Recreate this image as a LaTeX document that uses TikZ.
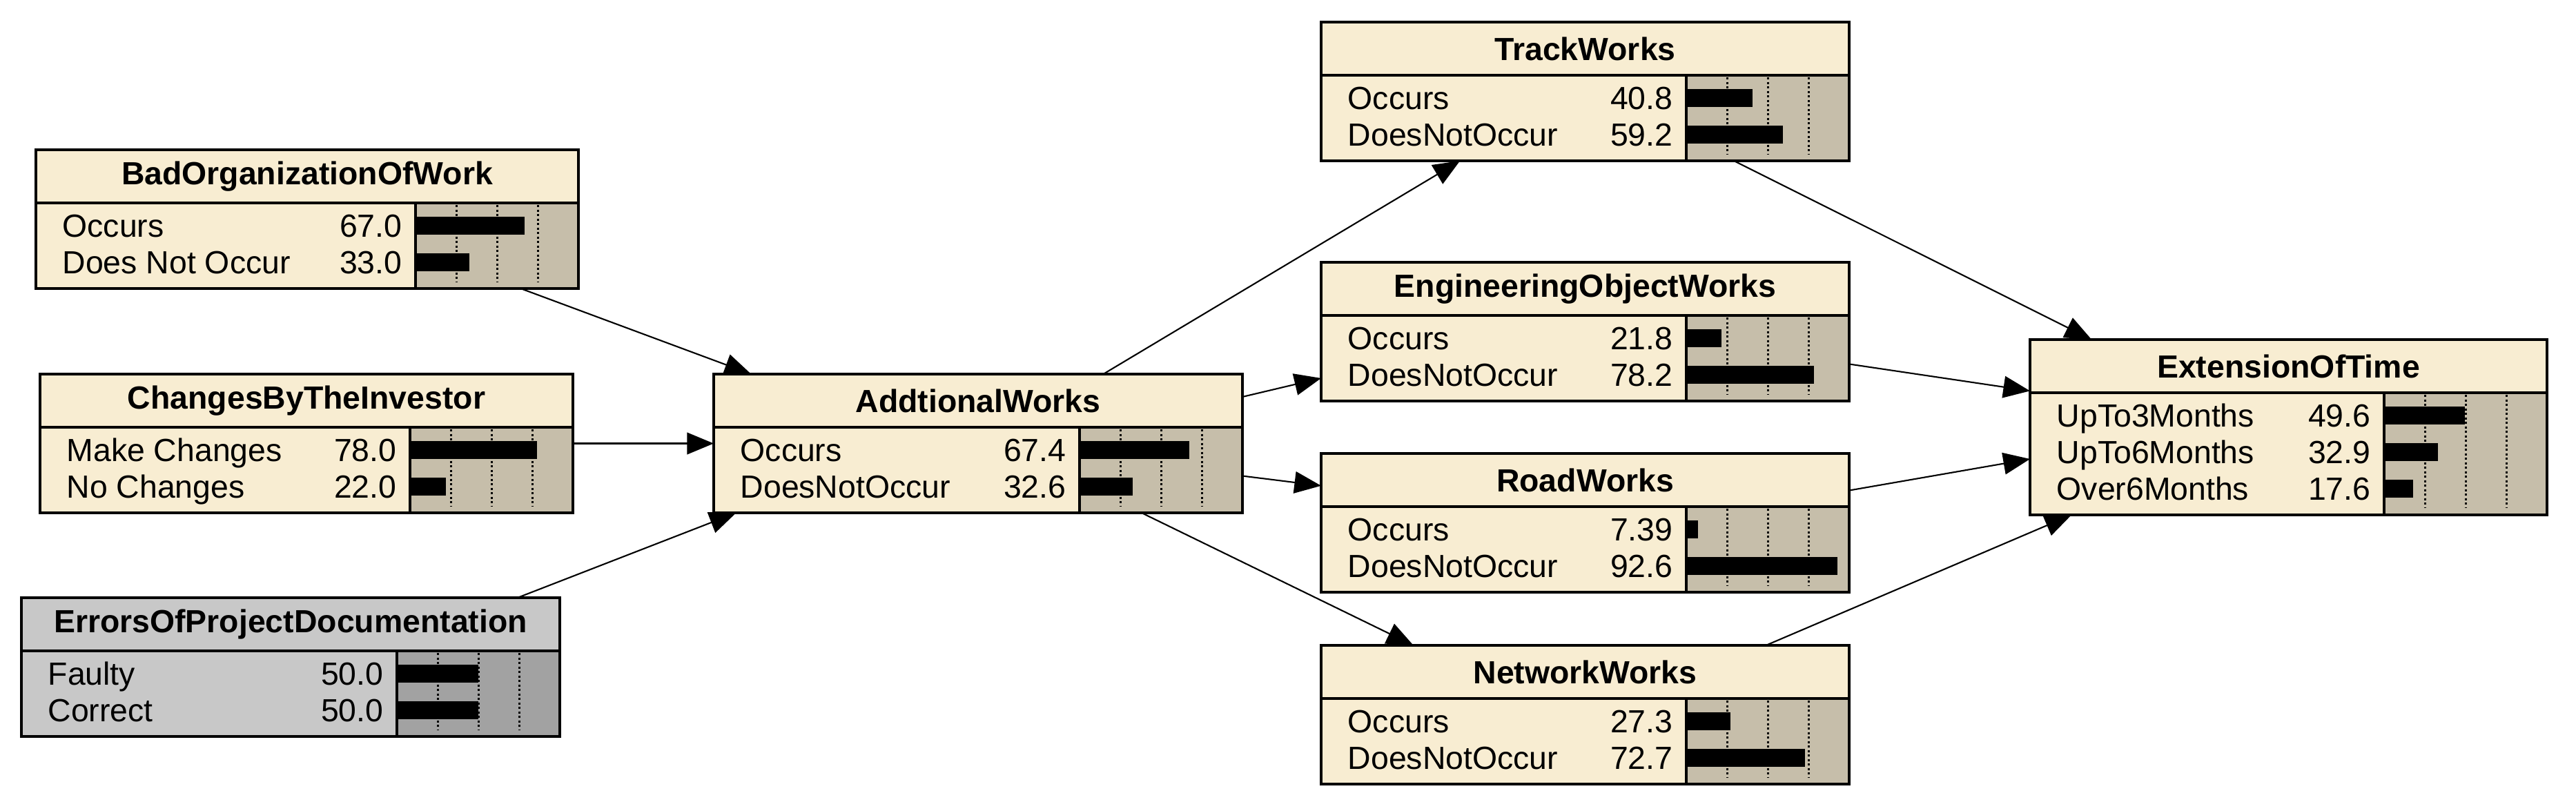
\documentclass[tikz,border=0pt]{standalone}
\usepackage{fontspec}
\setmainfont{Liberation Sans}
\usepackage{xcolor}
\usepackage{tikz}
\usetikzlibrary{arrows.meta}

\definecolor{netcream}{RGB}{248,237,210}
\definecolor{netbar}{RGB}{198,190,170}
\definecolor{netgrey}{RGB}{200,200,200}
\definecolor{netgreybar}{RGB}{162,162,162}

% name, left, top, width, rows, title, states, fill, bar fill
\newcommand{\beliefnode}[9]{%
  \pgfmathsetmacro{\yt}{-#3}
  \pgfmathsetmacro{\ys}{-#3-0.77}
  \pgfmathsetmacro{\yb}{-#3-0.95-0.53*#5}
  \pgfmathsetmacro{\bh}{0.95+0.53*#5}
  \pgfmathsetmacro{\xr}{#2+#4}
  \pgfmathsetmacro{\xb}{#2+#4-2.36}
  \pgfmathsetmacro{\xm}{#2+#4/2}
  \node[frame, fill=#8, minimum width=#4cm, minimum height=\bh cm, anchor=north west] (#1) at (#2,\yt) {};
  \fill[#9] (\xb,\ys) rectangle (\xr,\yb);
  \foreach \p in {0.25,0.5,0.75}
    \draw[gridline] ({\xb+2.36*\p},\ys-0.03) -- ({\xb+2.36*\p},\yb+0.1);
  \foreach \lab/\val [count=\i] in {#7} {
    \pgfmathsetmacro{\yc}{\ys-0.33-0.53*(\i-1)}
    \pgfmathsetmacro{\bw}{2.36*\val/100}
    \node[statetext, anchor=base west] at (#2+0.38,\yc-0.166) {\lab};
    \node[statetext, anchor=base east] at (\xb-0.19,\yc-0.166) {\val};
    \fill (\xb,\yc-0.13) rectangle ({\xb+\bw},\yc+0.13);
  }
  \node[titletext] at (\xm,\yt-0.385) {#6};
  \draw[sepline] (#2,\ys) -- (\xr,\ys);
  \draw[sepline] (\xb,\ys) -- (\xb,\yb);
  \draw[frameline] (#1.north west) rectangle (#1.south east);
}

\begin{document}
\begin{tikzpicture}[>={Triangle[length=11pt,width=9pt]},
    frame/.style={draw, line width=1.1pt, inner sep=0pt, outer sep=0pt},
    frameline/.style={line width=1.1pt},
    sepline/.style={line width=1pt},
    gridline/.style={line width=0.85pt, dash pattern=on 0.03cm off 0.035cm},
    titletext/.style={font=\fontsize{13.2}{15}\selectfont\bfseries, inner sep=0pt},
    statetext/.style={font=\fontsize{13.2}{15}\selectfont, inner sep=0pt},
    link/.style={line width=0.6pt}]
        \useasboundingbox (0,0) rectangle (37.32,-11.74);

        \beliefnode{bad}{0.52}{2.17}{7.86}{2}{BadOrganizationOfWork}{Occurs/67.0, Does Not Occur/33.0}{netcream}{netbar}
        \beliefnode{chg}{0.58}{5.42}{7.72}{2}{ChangesByTheInvestor}{Make Changes/78.0, No Changes/22.0}{netcream}{netbar}
        \beliefnode{err}{0.31}{8.66}{7.80}{2}{ErrorsOfProjectDocumentation}{Faulty/50.0, Correct/50.0}{netgrey}{netgreybar}
        \beliefnode{aw}{10.34}{5.42}{7.66}{2}{AddtionalWorks}{Occurs/67.4, DoesNotOccur/32.6}{netcream}{netbar}
        \beliefnode{track}{19.14}{0.32}{7.65}{2}{TrackWorks}{Occurs/40.8, DoesNotOccur/59.2}{netcream}{netbar}
        \beliefnode{eng}{19.14}{3.80}{7.65}{2}{EngineeringObjectWorks}{Occurs/21.8, DoesNotOccur/78.2}{netcream}{netbar}
        \beliefnode{road}{19.14}{6.57}{7.65}{2}{RoadWorks}{Occurs/7.39, DoesNotOccur/92.6}{netcream}{netbar}
        \beliefnode{netw}{19.14}{9.35}{7.65}{2}{NetworkWorks}{Occurs/27.3, DoesNotOccur/72.7}{netcream}{netbar}
        \beliefnode{ext}{29.41}{4.92}{7.49}{3}{ExtensionOfTime}{UpTo3Months/49.6, UpTo6Months/32.9, Over6Months/17.6}{netcream}{netbar}

        \draw[->, link] (bad.-18.8) -- (aw.163.3);
        \draw[->, link] (chg.east) -- (aw.west);
        \draw[->, link] (err.17.3) -- (aw.196.6);
        \draw[->, link] (aw.29.5) -- (track.209.8);
        \draw[->, link] (aw.10.4) -- (eng.190.5);
        \draw[->, link] (aw.-7.6) -- (road.172.7);
        \draw[->, link] (aw.-23.9) -- (netw.158.0);
        \draw[->, link] (track.-25.8) -- (ext.156.3);
        \draw[->, link] (eng.-7.5) -- (ext.172.0);
        \draw[->, link] (road.7.5) -- (ext.187.7);
        \draw[->, link] (netw.21.5) -- (ext.202.1);
    \end{tikzpicture}
\end{document}
